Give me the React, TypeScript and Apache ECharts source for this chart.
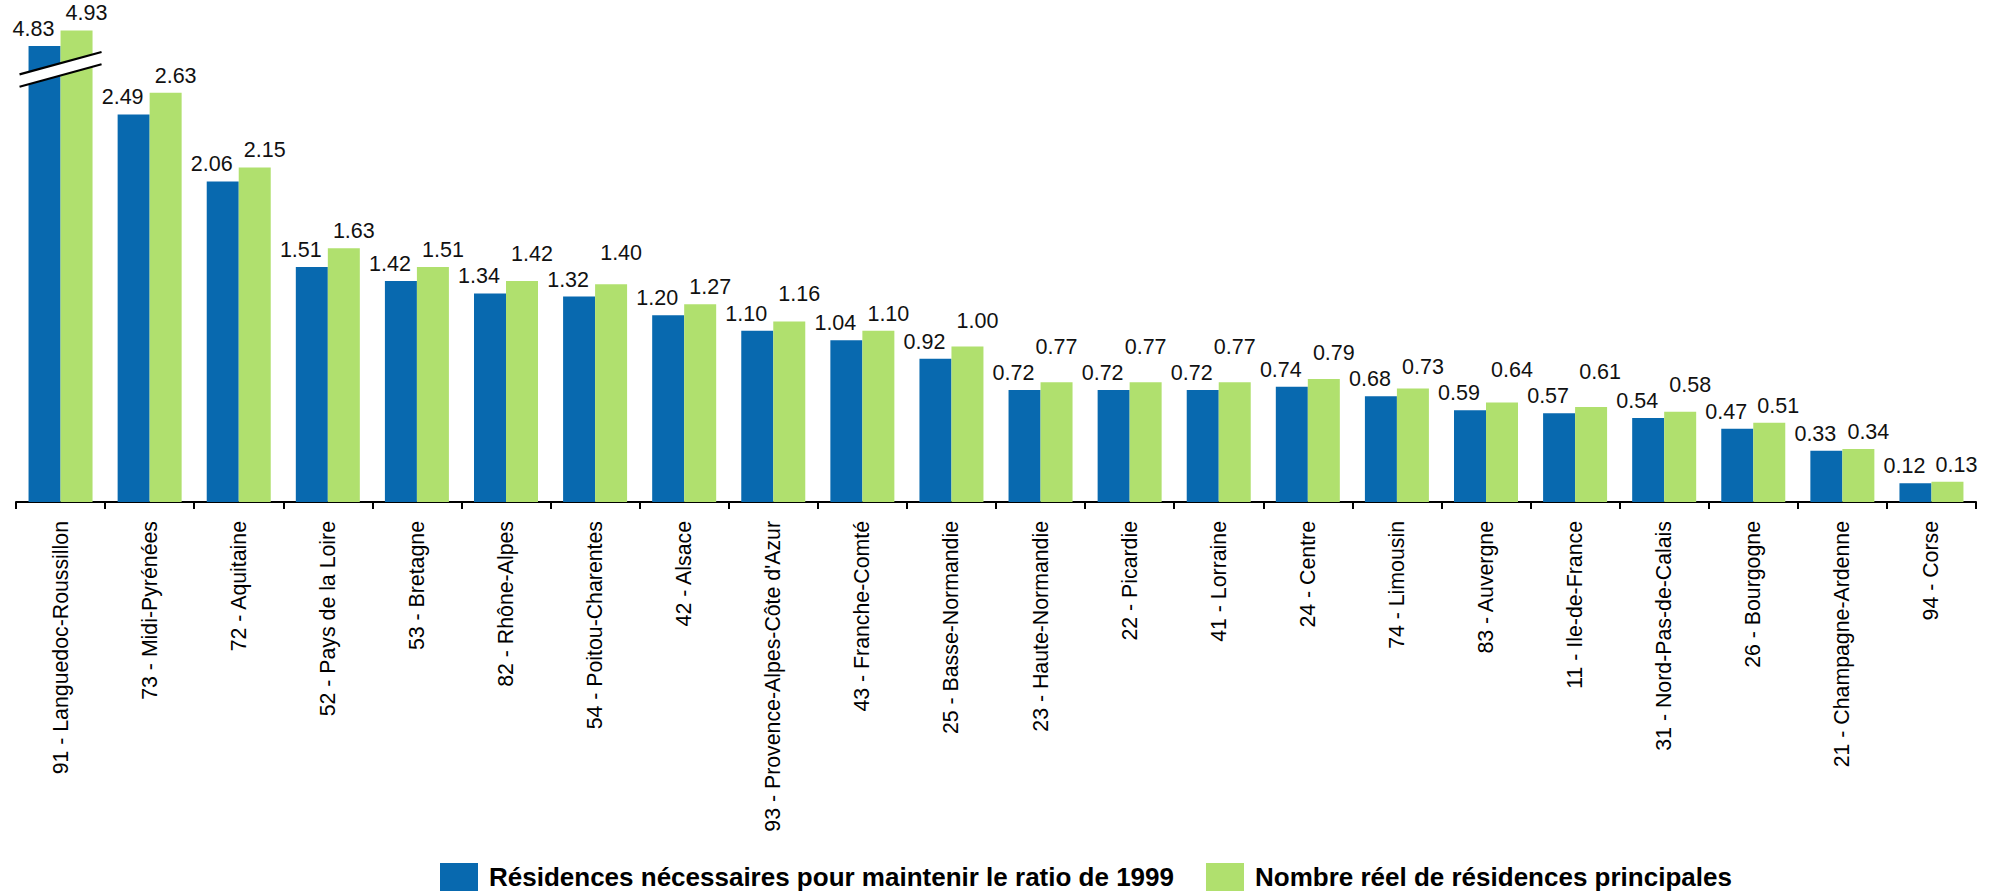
import { useEffect, useRef } from "react";
import * as echarts from "echarts";

const categories = [
  "91 - Languedoc-Roussillon",
  "73 - Midi-Pyrénées",
  "72 - Aquitaine",
  "52 - Pays de la Loire",
  "53 - Bretagne",
  "82 - Rhône-Alpes",
  "54 - Poitou-Charentes",
  "42 - Alsace",
  "93 - Provence-Alpes-Côte d'Azur",
  "43 - Franche-Comté",
  "25 - Basse-Normandie",
  "23 - Haute-Normandie",
  "22 - Picardie",
  "41 - Lorraine",
  "24 - Centre",
  "74 - Limousin",
  "83 - Auvergne",
  "11 - Ile-de-France",
  "31 - Nord-Pas-de-Calais",
  "26 - Bourgogne",
  "21 - Champagne-Ardenne",
  "94 - Corse",
];

const requiredValues = [
  4.83, 2.49, 2.06, 1.51, 1.42, 1.34, 1.32, 1.2, 1.1, 1.04, 0.92, 0.72, 0.72,
  0.72, 0.74, 0.68, 0.59, 0.57, 0.54, 0.47, 0.33, 0.12,
];

const actualValues = [
  4.93, 2.63, 2.15, 1.63, 1.51, 1.42, 1.4, 1.27, 1.16, 1.1, 1.0, 0.77, 0.77,
  0.77, 0.79, 0.73, 0.64, 0.61, 0.58, 0.51, 0.34, 0.13,
];

const seriesNames = [
  "Résidences nécessaires pour maintenir le ratio de 1999",
  "Nombre réel de résidences principales",
];

// axis break: values above the threshold are drawn shortened by the offset
const BREAK_THRESHOLD = 3;
const BREAK_OFFSET = 1.9;
const BREAK_MARK_VALUE = 2.78;

// label placement quirks of the original (pixels)
const greenLabelLift = [
  0, 0, 0, 0, 0, 10, 14, 0, 10, 0, 8, 18, 18, 18, 9, 4, 15, 18, 10, 0, 0, 0,
];
const greenLabelShift = [
  10, 10, 10, 10, 10, 10, 10, 10, 10, 10, 10, 0, 0, 0, 10, 10, 10, 9, 10, 9, 10, 9,
];
const BLUE_LABEL_SHIFT = -11;

const BLUE = "#0869AF";
const GREEN = "#B0E06E";
const FONT = "'Liberation Sans', Arial, Helvetica, sans-serif";

function shown(v: number) {
  return v > BREAK_THRESHOLD ? v - BREAK_OFFSET : v;
}

export default function App() {
  const ref = useRef<HTMLDivElement>(null);

  useEffect(() => {
    if (!ref.current) return;
    const chart = echarts.init(ref.current, undefined, { renderer: "svg" });

    const labelBase = {
      show: true,
      position: "top" as const,
      distance: 6,
      fontSize: 21.5,
      color: "#111",
      fontFamily: FONT,
    };

    chart.setOption({
      animation: false,
      backgroundColor: "#fff",
      textStyle: { fontFamily: FONT },
      grid: { left: 16, right: 15, top: 4, bottom: 389, containLabel: false },
      legend: {
        left: 435,
        top: 858,
        itemWidth: 38,
        itemHeight: 28,
        itemGap: 32,
        icon: "rect",
        textStyle: {
          fontSize: 26,
          fontWeight: "bold",
          color: "#000",
          fontFamily: FONT,
          padding: [0, 0, 0, 6],
        },
        data: seriesNames,
      },
      xAxis: {
        type: "category",
        data: categories,
        axisLine: { show: true, lineStyle: { color: "#000", width: 2 } },
        axisTick: { show: true, length: 7, lineStyle: { color: "#000", width: 2 } },
        axisLabel: {
          rotate: 90,
          interval: 0,
          margin: 19,
          fontSize: 21.3,
          color: "#000",
          fontFamily: FONT,
        },
      },
      yAxis: {
        type: "value",
        min: 0,
        max: 3.2,
        show: false,
        splitLine: { show: false },
      },
      series: [
        {
          name: seriesNames[0],
          type: "bar",
          barWidth: 32,
          barGap: "0%",
          itemStyle: { color: BLUE },
          label: {
            ...labelBase,
            offset: [BLUE_LABEL_SHIFT, 0],
            formatter: (p: any) => requiredValues[p.dataIndex].toFixed(2),
          },
          data: requiredValues.map((v) => shown(v)),
        },
        {
          name: seriesNames[1],
          type: "bar",
          barWidth: 32,
          barGap: "0%",
          itemStyle: { color: GREEN },
          label: {
            ...labelBase,
            formatter: (p: any) => actualValues[p.dataIndex].toFixed(2),
          },
          data: actualValues.map((v, i) => ({
            value: shown(v),
            label: { offset: [greenLabelShift[i], -greenLabelLift[i]] },
          })),
        },
      ],
    });

    // break mark across the first (shortened) pair of bars
    const cx = chart.convertToPixel({ xAxisIndex: 0 }, categories[0]) as number;
    const cy = chart.convertToPixel({ yAxisIndex: 0 }, BREAK_MARK_VALUE) as number;
    const hw = 41;
    const dy = 11.2;
    const half = 6.15;
    const l1 = [
      [cx - hw, cy - half + dy],
      [cx + hw, cy - half - dy],
    ];
    const l2 = [
      [cx - hw, cy + half + dy],
      [cx + hw, cy + half - dy],
    ];
    chart.setOption({
      graphic: [
        {
          type: "polygon",
          z: 100,
          shape: { points: [l1[0], l1[1], l2[1], l2[0]] },
          style: { fill: "#fff" },
        },
        {
          type: "line",
          z: 101,
          shape: { x1: l1[0][0], y1: l1[0][1], x2: l1[1][0], y2: l1[1][1] },
          style: { stroke: "#000", lineWidth: 2.2 },
        },
        {
          type: "line",
          z: 101,
          shape: { x1: l2[0][0], y1: l2[0][1], x2: l2[1][0], y2: l2[1][1] },
          style: { stroke: "#000", lineWidth: 2.2 },
        },
      ],
    });

    return () => chart.dispose();
  }, []);

  return (
    <div
      ref={ref}
      style={{ position: "absolute", left: 0, top: 0, width: 1991, height: 891 }}
    />
  );
}
